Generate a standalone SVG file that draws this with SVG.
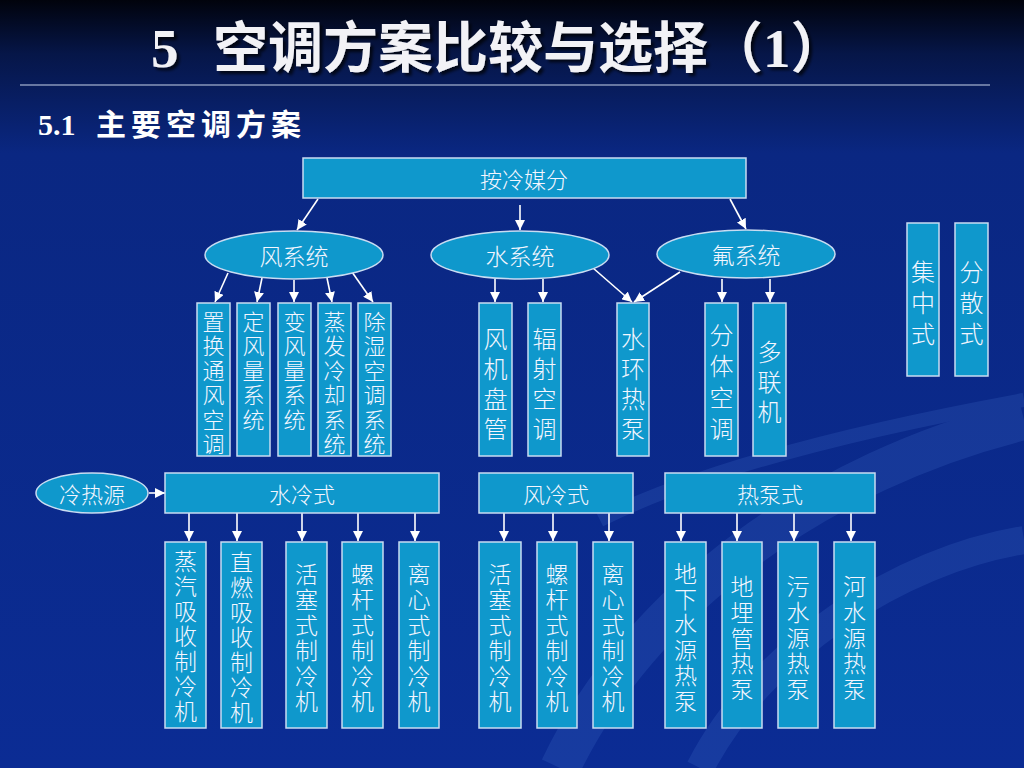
<svg xmlns="http://www.w3.org/2000/svg" width="1024" height="768" viewBox="0 0 1024 768">
<defs>
<linearGradient id="bg" x1="0" y1="0" x2="0" y2="1">
<stop offset="0" stop-color="#01030c"/>
<stop offset="0.07" stop-color="#061648"/>
<stop offset="0.2" stop-color="#0a2782"/>
<stop offset="1" stop-color="#0b2c94"/>
</linearGradient>
<marker id="ah" viewBox="0 0 10 10" refX="10" refY="5" markerWidth="10" markerHeight="10" markerUnits="userSpaceOnUse" orient="auto">
<path d="M0,0 L10,5 L0,10 z" fill="#ffffff"/>
</marker>
<filter id="sh" x="-5%" y="-20%" width="110%" height="140%">
<feDropShadow dx="3" dy="3" stdDeviation="1.5" flood-color="#000000" flood-opacity="0.7"/>
</filter>
</defs>
<style>
.node{fill:#0f98cc;stroke:#c9dcf2;stroke-width:1.5}
.t{font-family:"Noto Sans CJK SC","Noto Sans",sans-serif;font-weight:300;fill:#f4f6ff;text-anchor:middle;dominant-baseline:central}
.conn line{stroke:#ffffff;stroke-width:1.6;marker-end:url(#ah)}
</style>
<rect width="1024" height="768" fill="url(#bg)"/>
<g opacity="0.18" fill="none" stroke="#4f7fd8">
<path d="M560,768 C640,600 820,470 1024,420" stroke-width="40"/>
<path d="M700,768 C760,650 900,560 1024,540" stroke-width="28"/>
<path d="M600,520 C700,470 860,430 1024,400" stroke-width="14"/>
</g>
<g id="title">
<text y="67" font-family="'Liberation Serif','Noto Sans CJK SC',serif" font-weight="bold" font-size="55" fill="#f2f2f6" filter="url(#sh)"><tspan x="151">5</tspan><tspan x="213">空调方案比较与选择（1）</tspan></text>
<line x1="20" y1="85" x2="990" y2="85" stroke="#c8d4ea" stroke-width="1.2"/>
<text y="135" font-family="'Liberation Serif','Noto Sans CJK SC',serif" font-weight="bold" font-size="30" fill="#ffffff"><tspan x="38">5.1</tspan><tspan x="96" letter-spacing="5">主要空调方案</tspan></text>
</g>
<g class="conn">
<line x1="318" y1="199" x2="297" y2="230"/>
<line x1="520" y1="205" x2="520" y2="230"/>
<line x1="730" y1="199" x2="746" y2="229"/>
<line x1="228" y1="273" x2="215" y2="302"/>
<line x1="262" y1="278" x2="257" y2="302"/>
<line x1="294" y1="280" x2="294" y2="302"/>
<line x1="327" y1="278" x2="332" y2="302"/>
<line x1="352" y1="272" x2="373" y2="302"/>
<line x1="495" y1="279" x2="495" y2="302"/>
<line x1="543" y1="279" x2="543" y2="302"/>
<line x1="593" y1="268" x2="632" y2="302"/>
<line x1="680" y1="272" x2="634" y2="302"/>
<line x1="722" y1="279" x2="722" y2="302"/>
<line x1="770" y1="279" x2="770" y2="302"/>
<line x1="149" y1="493" x2="165" y2="493"/>
<line x1="189" y1="513" x2="189" y2="541"/>
<line x1="237" y1="513" x2="237" y2="541"/>
<line x1="302" y1="513" x2="302" y2="541"/>
<line x1="358" y1="513" x2="358" y2="541"/>
<line x1="415" y1="513" x2="415" y2="541"/>
<line x1="504" y1="513" x2="504" y2="541"/>
<line x1="553" y1="513" x2="553" y2="541"/>
<line x1="609" y1="513" x2="609" y2="541"/>
<line x1="681" y1="513" x2="681" y2="541"/>
<line x1="737" y1="513" x2="737" y2="541"/>
<line x1="794" y1="513" x2="794" y2="541"/>
<line x1="851" y1="513" x2="851" y2="541"/>
</g>
<g id="n-root"><rect class="node" x="303" y="158" width="443" height="40"/><text class="t" x="524" y="178" font-size="22">按冷媒分</text></g>
<g id="n-air"><ellipse class="node" cx="294" cy="255" rx="89" ry="24"/><text class="t" x="294" y="255" font-size="23">风系统</text></g>
<g id="n-water"><ellipse class="node" cx="520" cy="255" rx="89" ry="24"/><text class="t" x="520" y="255" font-size="23">水系统</text></g>
<g id="n-freon"><ellipse class="node" cx="746" cy="254" rx="89" ry="24"/><text class="t" x="746" y="254" font-size="23">氟系统</text></g>
<g id="n-a1"><rect class="node" x="197" y="303" width="33" height="153"/><text class="t" font-size="22"><tspan x="213.5" y="320">置</tspan><tspan x="213.5" y="344.4">换</tspan><tspan x="213.5" y="368.8">通</tspan><tspan x="213.5" y="393.2">风</tspan><tspan x="213.5" y="417.6">空</tspan><tspan x="213.5" y="442">调</tspan></text></g>
<g id="n-a2"><rect class="node" x="237" y="303" width="33" height="153"/><text class="t" font-size="22"><tspan x="253.5" y="320">定</tspan><tspan x="253.5" y="344.4">风</tspan><tspan x="253.5" y="368.8">量</tspan><tspan x="253.5" y="393.2">系</tspan><tspan x="253.5" y="417.6">统</tspan></text></g>
<g id="n-a3"><rect class="node" x="278" y="303" width="33" height="153"/><text class="t" font-size="22"><tspan x="294.5" y="320">变</tspan><tspan x="294.5" y="344.4">风</tspan><tspan x="294.5" y="368.8">量</tspan><tspan x="294.5" y="393.2">系</tspan><tspan x="294.5" y="417.6">统</tspan></text></g>
<g id="n-a4"><rect class="node" x="318" y="303" width="33" height="153"/><text class="t" font-size="22"><tspan x="334.5" y="320">蒸</tspan><tspan x="334.5" y="344.4">发</tspan><tspan x="334.5" y="368.8">冷</tspan><tspan x="334.5" y="393.2">却</tspan><tspan x="334.5" y="417.6">系</tspan><tspan x="334.5" y="442">统</tspan></text></g>
<g id="n-a5"><rect class="node" x="358" y="303" width="33" height="153"/><text class="t" font-size="22"><tspan x="374.5" y="320">除</tspan><tspan x="374.5" y="344.4">湿</tspan><tspan x="374.5" y="368.8">空</tspan><tspan x="374.5" y="393.2">调</tspan><tspan x="374.5" y="417.6">系</tspan><tspan x="374.5" y="442">统</tspan></text></g>
<g id="n-w1"><rect class="node" x="479" y="303" width="33" height="153"/><text class="t" font-size="24"><tspan x="495.5" y="337">风</tspan><tspan x="495.5" y="367">机</tspan><tspan x="495.5" y="397">盘</tspan><tspan x="495.5" y="427">管</tspan></text></g>
<g id="n-w2"><rect class="node" x="528" y="303" width="33" height="153"/><text class="t" font-size="24"><tspan x="544.5" y="337">辐</tspan><tspan x="544.5" y="367">射</tspan><tspan x="544.5" y="397">空</tspan><tspan x="544.5" y="427">调</tspan></text></g>
<g id="n-w3"><rect class="node" x="617" y="303" width="32" height="153"/><text class="t" font-size="24"><tspan x="633" y="337">水</tspan><tspan x="633" y="367">环</tspan><tspan x="633" y="397">热</tspan><tspan x="633" y="427">泵</tspan></text></g>
<g id="n-f1"><rect class="node" x="705" y="303" width="33" height="153"/><text class="t" font-size="24"><tspan x="721.5" y="333">分</tspan><tspan x="721.5" y="364">体</tspan><tspan x="721.5" y="395.5">空</tspan><tspan x="721.5" y="427">调</tspan></text></g>
<g id="n-f2"><rect class="node" x="753" y="303" width="33" height="153"/><text class="t" font-size="24"><tspan x="769.5" y="350">多</tspan><tspan x="769.5" y="380">联</tspan><tspan x="769.5" y="410">机</tspan></text></g>
<g id="n-c1"><rect class="node" x="907" y="223" width="32" height="153"/><text class="t" font-size="24"><tspan x="923" y="270">集</tspan><tspan x="923" y="301">中</tspan><tspan x="923" y="332">式</tspan></text></g>
<g id="n-c2"><rect class="node" x="955" y="223" width="33" height="153"/><text class="t" font-size="24"><tspan x="971.5" y="270">分</tspan><tspan x="971.5" y="301">散</tspan><tspan x="971.5" y="332">式</tspan></text></g>
<g id="n-src"><ellipse class="node" cx="92" cy="493" rx="56" ry="20"/><text class="t" x="92" y="493" font-size="22">冷热源</text></g>
<g id="n-wc"><rect class="node" x="165" y="473" width="274" height="40"/><text class="t" x="302" y="493" font-size="22">水冷式</text></g>
<g id="n-ac"><rect class="node" x="479" y="473" width="154" height="40"/><text class="t" x="556" y="493" font-size="22">风冷式</text></g>
<g id="n-hp"><rect class="node" x="665" y="473" width="210" height="40"/><text class="t" x="770" y="493" font-size="22">热泵式</text></g>
<g id="n-b1"><rect class="node" x="165" y="542" width="41" height="186"/><text class="t" font-size="23"><tspan x="185.5" y="560">蒸</tspan><tspan x="185.5" y="585">汽</tspan><tspan x="185.5" y="610">吸</tspan><tspan x="185.5" y="635">收</tspan><tspan x="185.5" y="660">制</tspan><tspan x="185.5" y="685">冷</tspan><tspan x="185.5" y="710">机</tspan></text></g>
<g id="n-b2"><rect class="node" x="221" y="542" width="41" height="186"/><text class="t" font-size="23"><tspan x="241.5" y="561">直</tspan><tspan x="241.5" y="586">燃</tspan><tspan x="241.5" y="611">吸</tspan><tspan x="241.5" y="636">收</tspan><tspan x="241.5" y="661">制</tspan><tspan x="241.5" y="686">冷</tspan><tspan x="241.5" y="711">机</tspan></text></g>
<g id="n-b3"><rect class="node" x="286" y="542" width="41" height="186"/><text class="t" font-size="23"><tspan x="306.5" y="573">活</tspan><tspan x="306.5" y="598.4">塞</tspan><tspan x="306.5" y="623.8">式</tspan><tspan x="306.5" y="649.2">制</tspan><tspan x="306.5" y="674.6">冷</tspan><tspan x="306.5" y="700">机</tspan></text></g>
<g id="n-b4"><rect class="node" x="342" y="542" width="41" height="186"/><text class="t" font-size="23"><tspan x="362.5" y="573">螺</tspan><tspan x="362.5" y="598.4">杆</tspan><tspan x="362.5" y="623.8">式</tspan><tspan x="362.5" y="649.2">制</tspan><tspan x="362.5" y="674.6">冷</tspan><tspan x="362.5" y="700">机</tspan></text></g>
<g id="n-b5"><rect class="node" x="399" y="542" width="40" height="186"/><text class="t" font-size="23"><tspan x="419" y="573">离</tspan><tspan x="419" y="598.4">心</tspan><tspan x="419" y="623.8">式</tspan><tspan x="419" y="649.2">制</tspan><tspan x="419" y="674.6">冷</tspan><tspan x="419" y="700">机</tspan></text></g>
<g id="n-b6"><rect class="node" x="479" y="542" width="42" height="186"/><text class="t" font-size="23"><tspan x="500" y="573">活</tspan><tspan x="500" y="598.4">塞</tspan><tspan x="500" y="623.8">式</tspan><tspan x="500" y="649.2">制</tspan><tspan x="500" y="674.6">冷</tspan><tspan x="500" y="700">机</tspan></text></g>
<g id="n-b7"><rect class="node" x="537" y="542" width="40" height="186"/><text class="t" font-size="23"><tspan x="557" y="573">螺</tspan><tspan x="557" y="598.4">杆</tspan><tspan x="557" y="623.8">式</tspan><tspan x="557" y="649.2">制</tspan><tspan x="557" y="674.6">冷</tspan><tspan x="557" y="700">机</tspan></text></g>
<g id="n-b8"><rect class="node" x="593" y="542" width="40" height="186"/><text class="t" font-size="23"><tspan x="613" y="573">离</tspan><tspan x="613" y="598.4">心</tspan><tspan x="613" y="623.8">式</tspan><tspan x="613" y="649.2">制</tspan><tspan x="613" y="674.6">冷</tspan><tspan x="613" y="700">机</tspan></text></g>
<g id="n-b9"><rect class="node" x="665" y="542" width="41" height="186"/><text class="t" font-size="23"><tspan x="685.5" y="572">地</tspan><tspan x="685.5" y="597.6">下</tspan><tspan x="685.5" y="623.2">水</tspan><tspan x="685.5" y="648.8">源</tspan><tspan x="685.5" y="674.4">热</tspan><tspan x="685.5" y="700">泵</tspan></text></g>
<g id="n-b10"><rect class="node" x="722" y="542" width="40" height="186"/><text class="t" font-size="23"><tspan x="742" y="585">地</tspan><tspan x="742" y="610.8">埋</tspan><tspan x="742" y="636.5">管</tspan><tspan x="742" y="662.3">热</tspan><tspan x="742" y="688">泵</tspan></text></g>
<g id="n-b11"><rect class="node" x="778" y="542" width="40" height="186"/><text class="t" font-size="23"><tspan x="798" y="585">污</tspan><tspan x="798" y="610.8">水</tspan><tspan x="798" y="636.5">源</tspan><tspan x="798" y="662.3">热</tspan><tspan x="798" y="688">泵</tspan></text></g>
<g id="n-b12"><rect class="node" x="834" y="542" width="41" height="186"/><text class="t" font-size="23"><tspan x="854.5" y="585">河</tspan><tspan x="854.5" y="610.8">水</tspan><tspan x="854.5" y="636.5">源</tspan><tspan x="854.5" y="662.3">热</tspan><tspan x="854.5" y="688">泵</tspan></text></g>
</svg>
